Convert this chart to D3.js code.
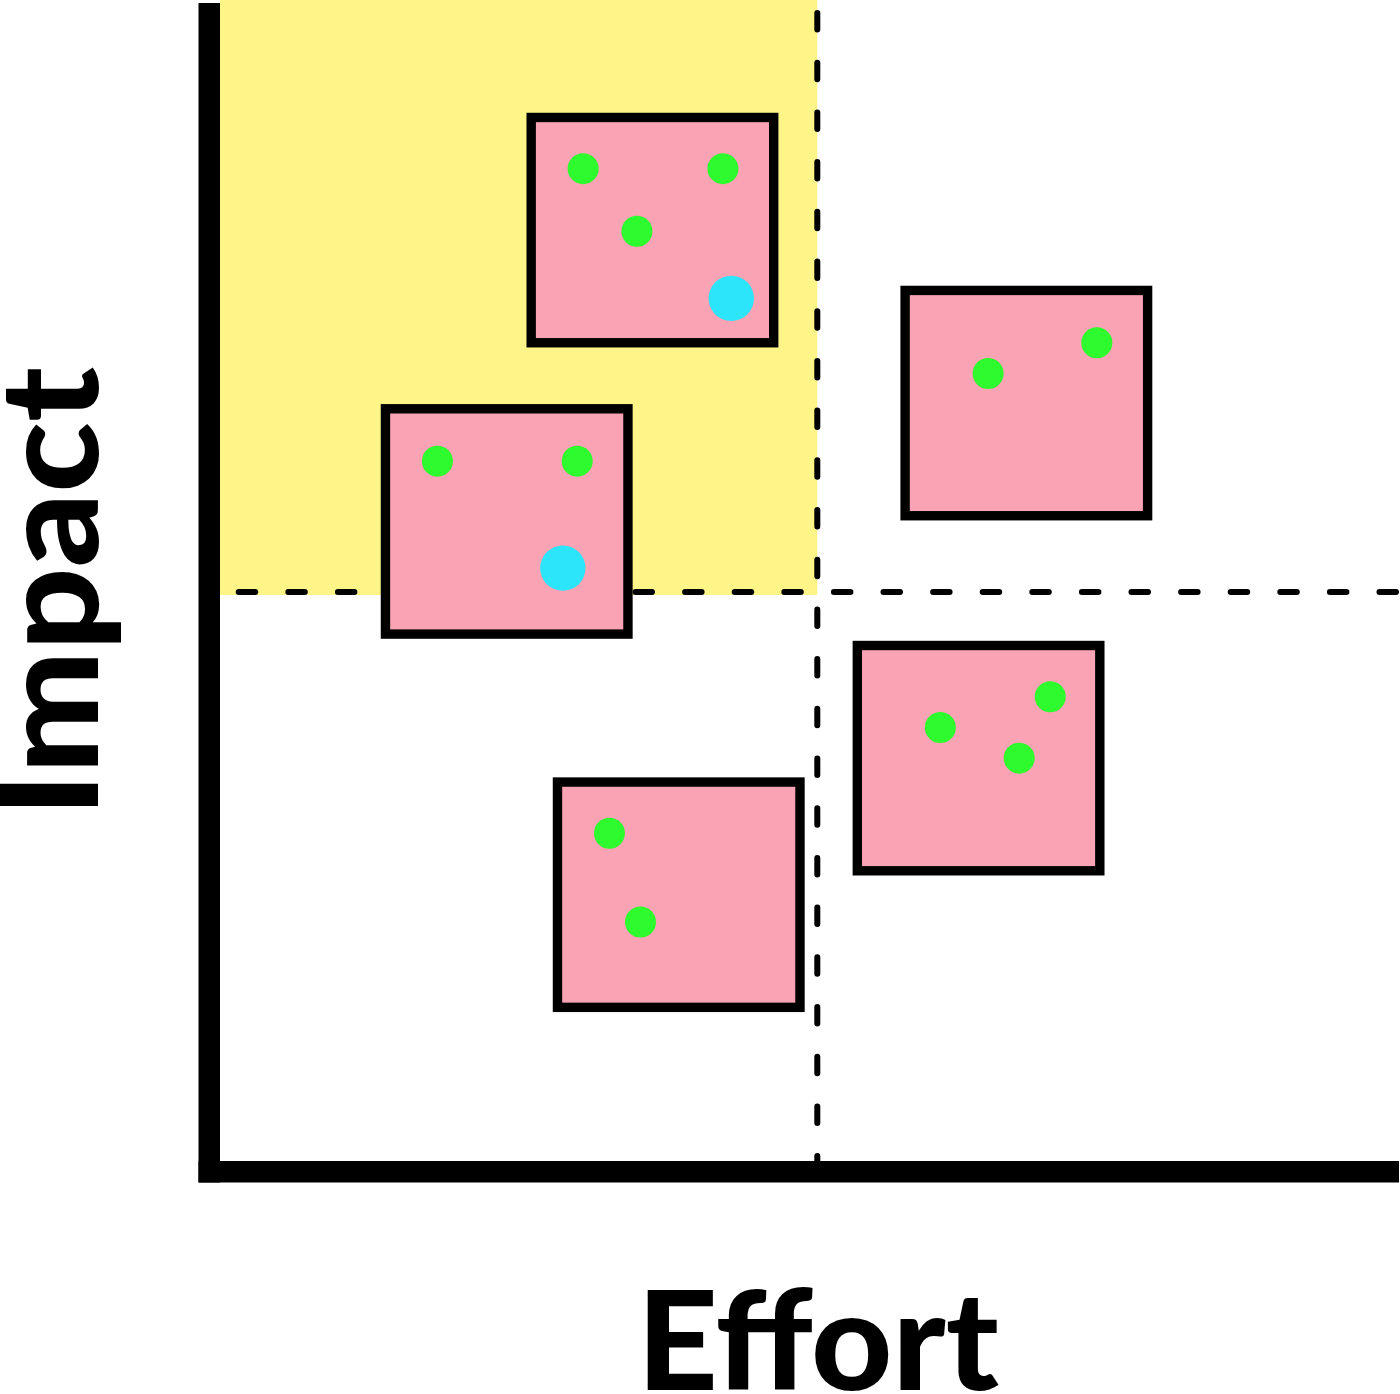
<!DOCTYPE html>
<html>
<head>
<meta charset="utf-8">
<script src="https://cdnjs.cloudflare.com/ajax/libs/d3/7.8.5/d3.min.js"></script>
<style>
  body { margin: 0; background: #ffffff; }
  svg { display: block; }
</style>
</head>
<body>
<div id="matrix"></div>
<script>

var svgWidth = 1400;
var svgHeight = 1394;

// sticky notes: centre of each note on the effort / impact scale (0-100)
var noteEffort = [36.2, 24.0, 67.5, 63.5, 38.4];
var noteImpact = [81.8, 56.2, 66.6, 35.4, 23.4];

// green votes (effort, impact)
var greenEffort = [30.4, 42.1, 34.9, 18.2, 29.9, 64.3, 73.4, 60.3, 69.5, 66.9, 32.6, 35.2];
var greenImpact = [87.2, 87.2, 81.7, 61.5, 61.5, 69.2, 71.9, 38.1, 40.8, 35.4, 28.8, 21.0];

// blue votes (effort, impact)
var blueEffort = [42.8, 28.7];
var blueImpact = [75.8, 52.1];

// quadrant split
var splitEffort = 50;
var splitImpact = 50;

var axisLabels = ["Effort", "Impact"];


var svg = d3
  .select("#matrix")
  .append("svg")
  .attr("width", svgWidth)
  .attr("height", svgHeight);

// scales, origin sits at the inner corner of the two axis bars
var xScale = d3.scaleLinear()
  .domain([0, 100])
  .range([220, 1414.6]);

var yScale = d3.scaleLinear()
  .domain([0, 100])
  .range([1161, 23]);


/*
 * QUICK WINS QUADRANT
 */
svg.append("rect")
  .attr("x", xScale(0))
  .attr("y", 0)
  .attr("width", xScale(splitEffort) - xScale(0))
  .attr("height", yScale(splitImpact) + 3)
  .attr("fill", "#fef589");


/*
 * DASHED SPLIT LINES
 */
svg.append("line")
  .attr("x1", xScale(splitEffort))
  .attr("x2", xScale(splitEffort))
  .attr("y1", 13)
  .attr("y2", yScale(0))
  .attr("stroke", "#000")
  .attr("stroke-width", 6)
  .attr("stroke-linecap", "round")
  .attr("stroke-dasharray", "16.5 33.2");

svg.append("line")
  .attr("x1", 238.7)
  .attr("x2", 1400)
  .attr("y1", yScale(splitImpact))
  .attr("y2", yScale(splitImpact))
  .attr("stroke", "#000")
  .attr("stroke-width", 6)
  .attr("stroke-linecap", "round")
  .attr("stroke-dasharray", "16.5 33.1");


/*
 * AXES
 */
var axisWidth = 21.5;

svg.append("line")
  .attr("x1", xScale(0) - axisWidth / 2)
  .attr("x2", xScale(0) - axisWidth / 2)
  .attr("y1", 3)
  .attr("y2", yScale(0) + axisWidth)
  .attr("stroke", "#000")
  .attr("stroke-width", axisWidth);

svg.append("line")
  .attr("x1", xScale(0) - axisWidth)
  .attr("x2", 1399)
  .attr("y1", yScale(0) + axisWidth / 2)
  .attr("y2", yScale(0) + axisWidth / 2)
  .attr("stroke", "#000")
  .attr("stroke-width", axisWidth);


/*
 * STICKY NOTES
 */
var noteW = 242.5;
var noteH = 225.3;

var notes = noteEffort.map(function(e, i) {
  return { effort: e, impact: noteImpact[i] };
});

svg.selectAll(".note")
  .data(notes)
  .enter()
  .append("rect")
  .attr("class", "note")
  .attr("x", d => xScale(d.effort) - noteW / 2)
  .attr("y", d => yScale(d.impact) - noteH / 2)
  .attr("width", noteW)
  .attr("height", noteH)
  .attr("fill", "#f9a3b4")
  .attr("stroke", "#000")
  .attr("stroke-width", 9.4);


/*
 * VOTES
 */
var greens = greenEffort.map(function(e, i) {
  return { effort: e, impact: greenImpact[i] };
});

var blues = blueEffort.map(function(e, i) {
  return { effort: e, impact: blueImpact[i] };
});

svg.selectAll(".green-vote")
  .data(greens)
  .enter()
  .append("circle")
  .attr("class", "green-vote")
  .attr("cx", d => xScale(d.effort))
  .attr("cy", d => yScale(d.impact))
  .attr("r", 15.5)
  .attr("fill", "#2dfb2d");

svg.selectAll(".blue-vote")
  .data(blues)
  .enter()
  .append("circle")
  .attr("class", "blue-vote")
  .attr("cx", d => xScale(d.effort))
  .attr("cy", d => yScale(d.impact))
  .attr("r", 22.7)
  .attr("fill", "#2ce5fb");


/*
 * AXIS TITLES
 */
svg.append("text")
  .attr("x", 818)
  .attr("y", 1390)
  .attr("text-anchor", "middle")
  .attr("font-family", "Lato, 'DejaVu Sans', sans-serif")
  .attr("font-weight", 900)
  .attr("font-size", 137)
  .attr("textLength", 362)
  .attr("lengthAdjust", "spacingAndGlyphs")
  .attr("fill", "#000")
  .text(axisLabels[0]);

svg.append("text")
  .attr("transform", "translate(98, 592) rotate(-90)")
  .attr("text-anchor", "middle")
  .attr("font-family", "Lato, 'DejaVu Sans', sans-serif")
  .attr("font-weight", 900)
  .attr("font-size", 137)
  .attr("textLength", 450)
  .attr("lengthAdjust", "spacingAndGlyphs")
  .attr("fill", "#000")
  .text(axisLabels[1]);

</script>
</body>
</html>
